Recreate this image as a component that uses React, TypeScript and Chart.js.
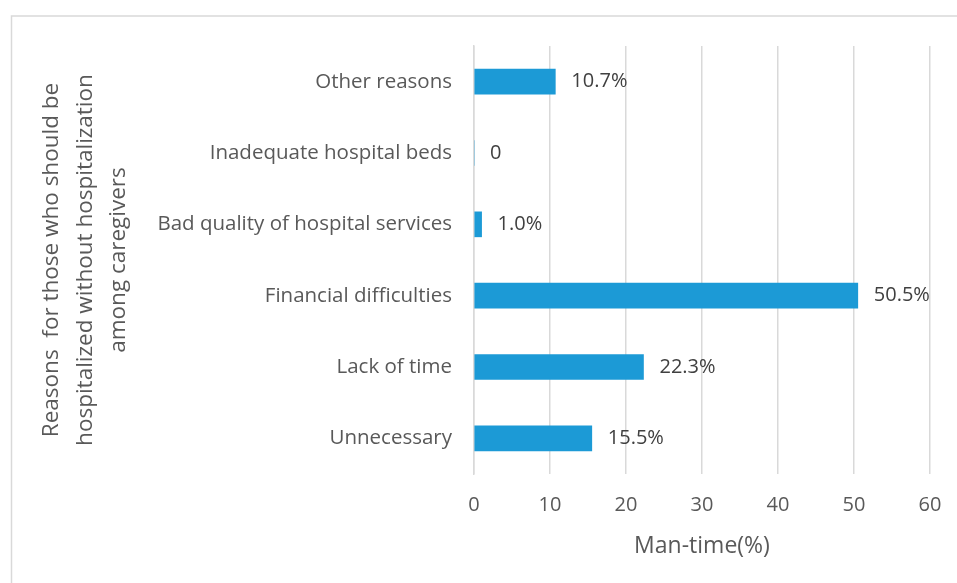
import React, { useEffect, useRef } from "react";
import { Chart, registerables } from "chart.js";

Chart.register(...registerables);

const categories = [
  "Other reasons",
  "Inadequate hospital beds",
  "Bad quality of hospital services",
  "Financial difficulties",
  "Lack of time",
  "Unnecessary",
];
const values = [10.7, 0, 1.0, 50.5, 22.3, 15.5];
const xTicks = [0, 10, 20, 30, 40, 50, 60];
const yTitleLines = [
  "Reasons  for those who should be",
  "hospitalized without hospitalization",
  "among caregivers",
];
const xTitle = "Man-time(%)";

const FONT = "'Open Sans', 'Noto Sans', sans-serif";

const decorPlugin = {
  id: "decor",
  beforeDraw(chart: any) {
    const ctx = chart.ctx;
    ctx.save();
    ctx.strokeStyle = "#d9d9d9";
    ctx.lineWidth = 1.5;
    ctx.beginPath();
    ctx.moveTo(11.5, 600);
    ctx.lineTo(11.5, 16);
    ctx.lineTo(1000, 16);
    ctx.stroke();
    ctx.restore();
  },
  afterDraw(chart: any) {
    const ctx = chart.ctx;
    const area = chart.chartArea;
    ctx.save();
    // data labels
    const meta = chart.getDatasetMeta(0);
    ctx.font = `20px ${FONT}`;
    ctx.fillStyle = "#404040";
    ctx.textAlign = "left";
    ctx.textBaseline = "middle";
    meta.data.forEach((bar: any, i: number) => {
      const v = values[i];
      const txt = v === 0 ? "0" : v.toFixed(1) + "%";
      ctx.fillText(txt, bar.x + 16, bar.y);
    });
    // x title
    ctx.fillStyle = "#595959";
    ctx.font = `23px ${FONT}`;
    ctx.textAlign = "center";
    ctx.fillText(xTitle, (area.left + area.right) / 2, 546);
    // y title
    ctx.font = `22.5px ${FONT}`;
    const cy = (area.top + area.bottom) / 2;
    const xs = [52, 86, 119];
    yTitleLines.forEach((line, i) => {
      ctx.save();
      ctx.translate(xs[i], cy);
      ctx.rotate(-Math.PI / 2);
      ctx.textAlign = "center";
      ctx.textBaseline = "middle";
      ctx.fillText(line, 0, 0);
      ctx.restore();
    });
    ctx.restore();
  },
};

export default function App() {
  const ref = useRef<HTMLCanvasElement>(null);
  useEffect(() => {
    const chart = new Chart(ref.current!, {
      type: "bar",
      data: {
        labels: categories,
        datasets: [
          {
            data: values,
            backgroundColor: "#1c9ad6",
            barThickness: 25,
          },
        ],
      },
      options: {
        indexAxis: "y",
        animation: false,
        responsive: false,
        maintainAspectRatio: false,
        layout: { padding: { top: 46, right: 27, left: 0, bottom: 0 } },
        plugins: { legend: { display: false }, tooltip: { enabled: false } },
        scales: {
          x: {
            min: 0,
            max: 60,
            afterBuildTicks: (scale: any) => {
              scale.ticks = xTicks.map((v) => ({ value: v }));
            },
            afterFit: (scale: any) => {
              scale.height = 109;
            },
            grid: {
              color: "#d9d9d9",
              lineWidth: 1.5,
              drawTicks: true,
              tickLength: 19,
              tickColor: "rgba(0,0,0,0)",
            },
            border: { display: false },
            ticks: {
              color: "#595959",
              font: { family: FONT, size: 20 },
              padding: 0,
            },
          },
          y: {
            afterFit: (scale: any) => {
              scale.width = 474;
            },
            grid: { display: false, drawTicks: false },
            border: { color: "#d9d9d9", width: 1.5 },
            ticks: {
              color: "#595959",
              font: { family: FONT, size: 20.5 },
              padding: 22,
            },
          },
        },
      },
      plugins: [decorPlugin],
    });
    return () => chart.destroy();
  }, []);
  return (
    <div style={{ position: "fixed", left: 0, top: 0, width: 957, height: 583, background: "#fff" }}>
      <canvas ref={ref} width={957} height={583} style={{ display: "block" }} />
    </div>
  );
}
